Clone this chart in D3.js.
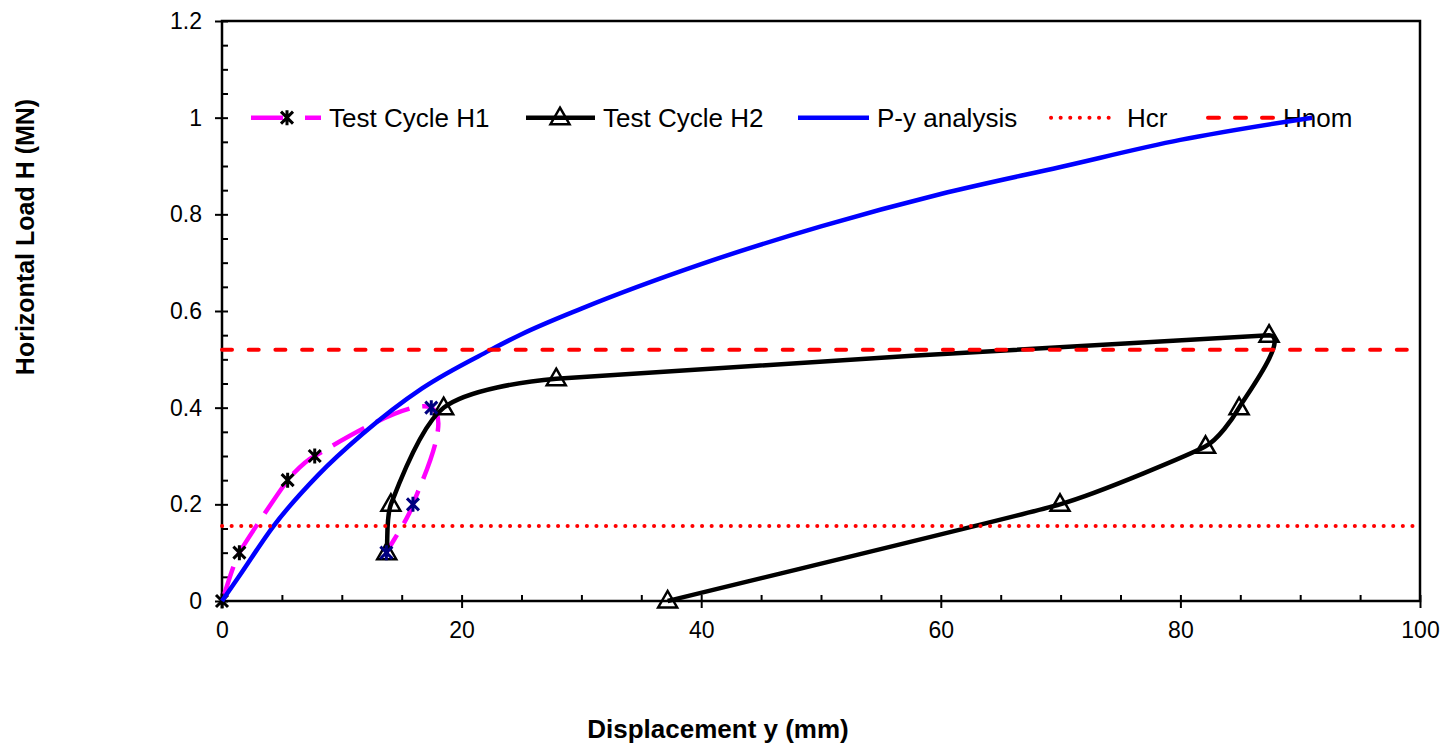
<!DOCTYPE html>
<html>
<head>
<script src="https://d3js.org/d3.v7.min.js"></script>
<style>
  body { margin: 0; background: #fff; }
  svg text { font-family: Arial, "Liberation Sans", sans-serif; fill: #000; }
</style>
</head>
<body>
<div id="chart"></div>
<script>
// values
const xTicks = [0, 20, 40, 60, 80, 100];
const yTicks = [0, 0.2, 0.4, 0.6, 0.8, 1, 1.2];
const yTickLabels = ["0", "0.2", "0.4", "0.6", "0.8", "1", "1.2"];

// Test Cycle H1 (last three points drawn with navy markers)
const h1X = [0, 1.45, 5.48, 7.74, 17.47, 15.94, 13.72];
const h1Y = [0, 0.1, 0.25, 0.3, 0.4, 0.2, 0.1];

// Test Cycle H2
const h2X = [13.75, 14.1, 18.5, 27.9, 87.4, 84.9, 82.1, 69.95, 37.2];
const h2Y = [0.1, 0.2, 0.4, 0.46, 0.55, 0.4, 0.32, 0.2, 0];

// P-y analysis
const pyX = [0, 1.4, 4.3, 8, 11.7, 16.7, 22.3, 25, 30, 40, 50, 60, 70, 80, 91];
const pyY = [0, 0.05, 0.155, 0.26, 0.345, 0.44, 0.518, 0.552, 0.605, 0.697, 0.775, 0.842, 0.898, 0.954, 1.0];

const hcr = 0.155;
const hnom = 0.52;

const W = 1441, H = 747;
const margin = { top: 21, right: 21, bottom: 146, left: 222 };
const iw = W - margin.left - margin.right;
const ih = H - margin.top - margin.bottom;

const svg = d3.select("#chart").append("svg")
    .attr("width", W).attr("height", H);
const g = svg.append("g")
    .attr("transform", `translate(${margin.left},${margin.top})`);

const x = d3.scaleLinear().domain([0, 100]).range([0, iw]);
const y = d3.scaleLinear().domain([0, 1.2]).range([ih, 0]);

const zip = (xs, ys) => xs.map((v, i) => [v, ys[i]]);
const h1 = zip(h1X, h1Y), h2 = zip(h2X, h2Y), py = zip(pyX, pyY);

// smoothed line like the spreadsheet's: tangent from neighbours,
// handle length limited by the shorter adjacent segment
function smooth(data, f) {
  const p = data.map(d => [x(d[0]), y(d[1])]);
  const n = p.length;
  const dist = (a, b) => Math.hypot(b[0] - a[0], b[1] - a[1]);
  const tan = p.map((pt, i) => {
    const a = p[Math.max(0, i - 1)], b = p[Math.min(n - 1, i + 1)];
    const l = dist(a, b) || 1;
    let len;
    if (i === 0) len = dist(p[0], p[1]);
    else if (i === n - 1) len = dist(p[n - 2], p[n - 1]);
    else len = Math.min(dist(p[i - 1], pt), dist(pt, p[i + 1]));
    const k = len * f;
    return [(b[0] - a[0]) / l * k, (b[1] - a[1]) / l * k];
  });
  let s = `M${p[0][0]},${p[0][1]}`;
  for (let i = 0; i < n - 1; i++) {
    const c1 = [p[i][0] + tan[i][0], p[i][1] + tan[i][1]];
    const c2 = [p[i + 1][0] - tan[i + 1][0], p[i + 1][1] - tan[i + 1][1]];
    s += `C${c1[0]},${c1[1]} ${c2[0]},${c2[1]} ${p[i + 1][0]},${p[i + 1][1]}`;
  }
  return s;
}

// frame
g.append("rect").attr("width", iw).attr("height", ih)
    .attr("fill", "none").attr("stroke", "#000").attr("stroke-width", 2.5);

// minor ticks, inside
const yMinor = d3.range(0, 1.2001, 0.05);
const xMinor = d3.range(0, 100.001, 5);
g.append("g").call(d3.axisRight(y).tickValues(yMinor).tickSize(6).tickFormat(""))
    .call(a => a.select(".domain").remove());
g.append("g").attr("transform", `translate(0,${ih})`)
    .call(d3.axisTop(x).tickValues(xMinor).tickSize(6).tickFormat(""))
    .call(a => a.select(".domain").remove());

// major ticks, outside, with labels
g.append("g")
    .call(d3.axisLeft(y).tickValues(yTicks).tickSize(7).tickPadding(13)
        .tickFormat((d, i) => yTickLabels[i]))
    .call(a => a.select(".domain").remove())
    .call(a => a.selectAll("text").attr("font-size", 23).attr("font-family", null));
g.append("g").attr("transform", `translate(0,${ih})`)
    .call(d3.axisBottom(x).tickValues(xTicks).tickSize(7).tickPadding(14))
    .call(a => a.select(".domain").remove())
    .call(a => a.selectAll("text").attr("font-size", 23).attr("font-family", null));
g.selectAll(".tick line").attr("stroke", "#000").attr("stroke-width", 2);

// axis titles
svg.append("text").attr("x", 718).attr("y", 738)
    .attr("text-anchor", "middle").attr("font-size", 26).attr("font-weight", "bold")
    .text("Displacement y (mm)");
svg.append("text")
    .attr("transform", "translate(34,237) rotate(-90)")
    .attr("text-anchor", "middle").attr("font-size", 25).attr("font-weight", "bold")
    .text("Horizontal Load H (MN)");

// markers
const star = "M-6,-6L6,6M-6,6L6,-6M0,-7.5L0,7.5";
const tri = "M0,-10L9.5,6.5L-9.5,6.5Z";

// legend
const ly = y(1);
const leg = g.append("g");
const legItems = [
  { x0: 251, x1: 321, tx: 329, label: "Test Cycle H1", color: "#ff00ff", w: 4.5, dash: "32 22 20", mark: "star", mx: 287 },
  { x0: 526, x1: 595, tx: 603, label: "Test Cycle H2", color: "#000", w: 4.5, dash: null, mark: "tri", mx: 560 },
  { x0: 798, x1: 869, tx: 877, label: "P-y analysis", color: "#0000ff", w: 4.5, dash: null },
  { x0: 1051, x1: 1116, tx: 1127, label: "Hcr", color: "#ff0000", w: 4, dash: "0.1 9.5", cap: "round" },
  { x0: 1208, x1: 1273, tx: 1283, label: "Hnom", color: "#ff0000", w: 4, dash: "11 16", cap: "round" }
];
legItems.forEach(d => {
  leg.append("line")
      .attr("x1", d.x0 - margin.left).attr("x2", d.x1 - margin.left)
      .attr("y1", ly).attr("y2", ly)
      .attr("stroke", d.color).attr("stroke-width", d.w)
      .attr("stroke-dasharray", d.dash).attr("stroke-linecap", d.cap || "butt");
  if (d.mark) {
    leg.append("path").attr("d", d.mark === "star" ? star : tri)
        .attr("transform", `translate(${d.mx - margin.left},${ly})`)
        .attr("stroke", "#000").attr("stroke-width", d.mark === "star" ? 3 : 2.5)
        .attr("fill", "none");
  }
  leg.append("text").attr("x", d.tx - margin.left).attr("y", ly + 9)
      .attr("font-size", 26).text(d.label);
});

// Test Cycle H1
g.append("path").attr("d", smooth(h1, 0.25))
    .attr("fill", "none").attr("stroke", "#ff00ff").attr("stroke-width", 4.5)
    .attr("stroke-dasharray", "36 13");
g.selectAll(".m1").data(h1.slice(0, 4)).join("path")
    .attr("d", star).attr("transform", d => `translate(${x(d[0])},${y(d[1])})`)
    .attr("stroke", "#000").attr("stroke-width", 3).attr("fill", "none");

// Test Cycle H2
g.append("path").attr("d", smooth(h2, 0.27))
    .attr("fill", "none").attr("stroke", "#000").attr("stroke-width", 4.5);
g.selectAll(".m2").data(h2).join("path")
    .attr("d", tri).attr("transform", d => `translate(${x(d[0])},${y(d[1])})`)
    .attr("stroke", "#000").attr("stroke-width", 2.5).attr("fill", "none");
g.selectAll(".m1b").data(h1.slice(4)).join("path")
    .attr("d", star).attr("transform", d => `translate(${x(d[0])},${y(d[1])})`)
    .attr("stroke", "#000080").attr("stroke-width", 3).attr("fill", "none");

// P-y analysis
g.append("path").datum(py)
    .attr("d", d3.line().x(d => x(d[0])).y(d => y(d[1])).curve(d3.curveMonotoneX))
    .attr("fill", "none").attr("stroke", "#0000ff").attr("stroke-width", 4.5);

// Hcr and Hnom
g.append("line").attr("x1", 0).attr("x2", iw).attr("y1", y(hcr)).attr("y2", y(hcr))
    .attr("stroke", "#ff0000").attr("stroke-width", 4)
    .attr("stroke-dasharray", "0.1 9.5").attr("stroke-linecap", "round");
g.append("line").attr("x1", 0).attr("x2", iw).attr("y1", y(hnom)).attr("y2", y(hnom))
    .attr("stroke", "#ff0000").attr("stroke-width", 4)
    .attr("stroke-dasharray", "10 16.7").attr("stroke-linecap", "round");
</script>
</body>
</html>
